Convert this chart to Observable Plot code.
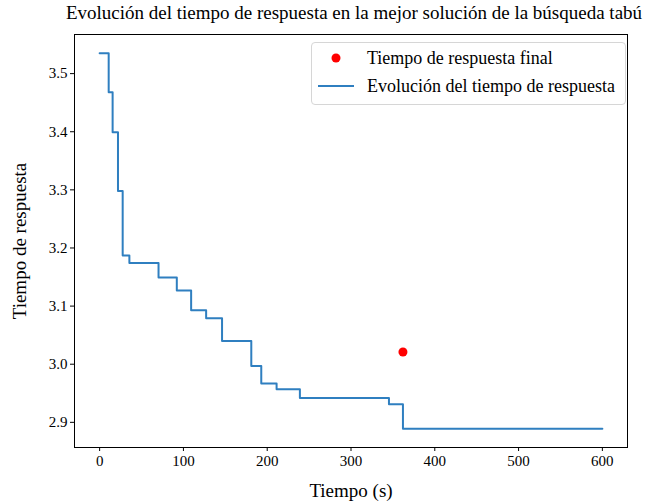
<!DOCTYPE html>
<html>
<head>
<meta charset="utf-8">
<script src="https://cdn.jsdelivr.net/npm/d3@7"></script>
<script src="https://cdn.jsdelivr.net/npm/@observablehq/plot@0.6"></script>
<style>
  body { margin: 0; background: #fff; font-family: "Liberation Serif", "DejaVu Serif", serif; }
  #wrap { position: relative; width: 646px; height: 502px; }
  #title { position: absolute; left: 14px; width: 680px; top: 2px; text-align: center; font-size: 19px; white-space: nowrap; color: #000; }
  #chart { position: absolute; left: 0; top: 27px; }
  #legend { position: absolute; left: 311px; top: 42px; width: 313px; height: 61px; border: 1px solid #d6d6d6; border-radius: 4px; background: rgba(255,255,255,0.8); font-size: 18px; color: #000; }
  .row { position: absolute; left: 0; height: 24px; line-height: 24px; }
  .sym { position: absolute; left: 6px; width: 36px; height: 24px; }
  .lbl { position: absolute; left: 55px; white-space: nowrap; }
  #chart svg text { font-family: "Liberation Serif", serif; }
</style>
</head>
<body>
<div id="wrap">
  <div id="title">Evolución del tiempo de respuesta en la mejor solución de la búsqueda tabú</div>
  <div id="chart"></div>
  <div id="legend">
    <div class="row" style="top:3px"><svg class="sym" width="36" height="24"><circle cx="18" cy="12" r="4.5" fill="red"/></svg><span class="lbl">Tiempo de respuesta final</span></div>
    <div class="row" style="top:31px"><svg class="sym" width="36" height="24"><line x1="0" x2="36" y1="12" y2="12" stroke="#2f7fc0" stroke-width="2"/></svg><span class="lbl">Evolución del tiempo de respuesta</span></div>
  </div>
</div>
<script>
const times = [0, 10.8, 15.5, 21.9, 27.5, 35.5, 70.3, 92.1, 109.2, 127.1, 146.1, 181, 192.9, 211.2, 239, 345.3, 362, 600];
const responseTimes = [3.535, 3.468, 3.399, 3.298, 3.187, 3.174, 3.149, 3.127, 3.093, 3.079, 3.040, 2.997, 2.967, 2.957, 2.942, 2.931, 2.889, 2.889];
const finalTime = [362];
const finalValue = [3.021];
const xTicks = [0, 100, 200, 300, 400, 500, 600];
const yTicks = [2.9, 3.0, 3.1, 3.2, 3.3, 3.4, 3.5];

const series = times.map((t, i) => ({t, v: responseTimes[i]}));
const finalPts = finalTime.map((t, i) => ({t, v: finalValue[i]}));

const chart = Plot.plot({
  width: 646,
  height: 475,
  marginLeft: 74,
  marginRight: 19,
  marginTop: 7,
  marginBottom: 55,
  style: { fontFamily: "Liberation Serif, serif", fontSize: "15px", color: "#000", background: "#fff" },
  x: { domain: [-30, 630] },
  y: { domain: [2.8567, 3.5673] },
  marks: [
    Plot.frame({ stroke: "#000", strokeWidth: 1 }),
    Plot.axisX({ ticks: xTicks, tickSize: 4, tickPadding: 4, label: "Tiempo (s)", labelAnchor: "center", labelArrow: "none", labelOffset: 49, fontSize: 15, fontFamily: "Liberation Serif" }),
    Plot.axisY({ ticks: yTicks, tickFormat: d3.format(".1f"), tickSize: 4, tickPadding: 3, label: "Tiempo de respuesta", labelAnchor: "center", labelArrow: "none", labelOffset: 62, fontSize: 15, fontFamily: "Liberation Serif" }),
    Plot.line(series, { x: "t", y: "v", curve: "step-after", stroke: "#2f7fc0", strokeWidth: 2 }),
    Plot.dot(finalPts, { x: "t", y: "v", r: 4.5, fill: "red", stroke: "none" })
  ]
});
document.getElementById("chart").appendChild(chart);
chart.querySelectorAll("[aria-label='x-axis label'] text, [aria-label='y-axis label'] text").forEach(t => t.setAttribute("font-size", "19"));
</script>
</body>
</html>
